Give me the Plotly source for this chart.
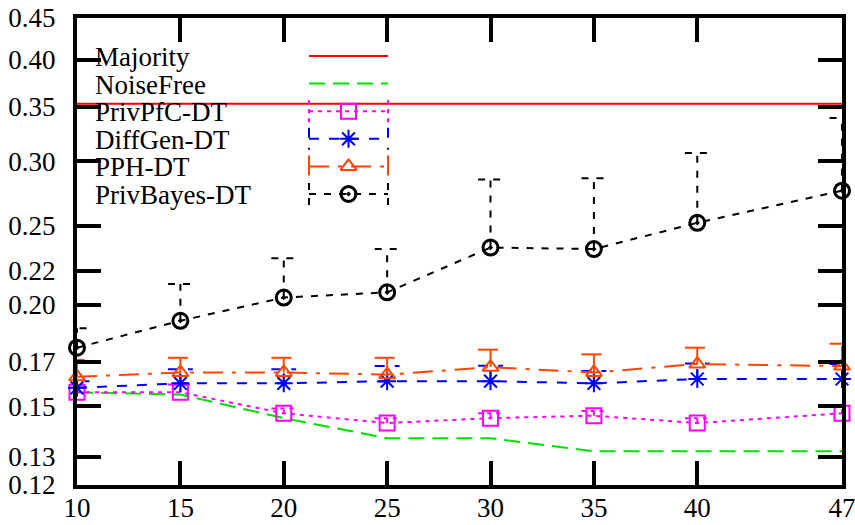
import plotly.graph_objects as go

# ---------------- data ----------------
x_vals = [10, 15, 20, 25, 30, 35, 40, 47]
majority = [0.353, 0.353, 0.353, 0.353, 0.353, 0.353, 0.353, 0.353]
noisefree = [0.156, 0.155, 0.145, 0.137, 0.137, 0.132, 0.132, 0.132]
privpfc = [0.156, 0.156, 0.147, 0.143, 0.145, 0.146, 0.143, 0.147]
privpfc_err = [0.002, 0.0035, 0.002, 0.002, 0.002, 0.002, 0.002, 0.0035]
diffgen = [0.158, 0.160, 0.160, 0.161, 0.161, 0.160, 0.162, 0.162]
diffgen_err = [0.003, 0.0065, 0.0065, 0.007, 0.0072, 0.0057, 0.0072, 0.007]
pph = [0.163, 0.165, 0.165, 0.164, 0.1675, 0.165, 0.169, 0.168]
pph_err = [0.008, 0.007, 0.007, 0.008, 0.0085, 0.0087, 0.008, 0.011]
privbayes = [0.177, 0.191, 0.204, 0.207, 0.235, 0.234, 0.252, 0.276]
privbayes_err = [0.010, 0.021, 0.024, 0.027, 0.050, 0.052, 0.055, 0.063]

y_ticks = [0.12, 0.13, 0.15, 0.17, 0.20, 0.22, 0.25, 0.30, 0.35, 0.40, 0.45]
y_tick_labels = ["0.12", "0.13", "0.15", "0.17", "0.20", "0.22", "0.25", "0.30", "0.35", "0.40", "0.45"]
x_ticks = [10, 15, 20, 25, 30, 35, 40, 47]

# ---------------- styles ----------------
FONT = "Liberation Serif, Times New Roman, DejaVu Serif, serif"
FS = 27
LW = 2
CAP_HALF = 0.6  # half-width of error bar caps, in x units

series = [
    # name, values, errors, color, dash, marker symbol, marker size
    ("Majority", majority, None, "#ff0000", "solid", None, 0),
    ("NoiseFree", noisefree, None, "#00e000", "16px,8px", None, 0),
    ("PrivPfC-DT", privpfc, privpfc_err, "#ff00ff", "4px,5px", "square-open", 15),
    ("DiffGen-DT", diffgen, diffgen_err, "#0000ff", "10px,10px", "asterisk-open", 15),
    ("PPH-DT", pph, pph_err, "#ff4500", "20px,9px,4px,9px", "triangle-up-open", 14),
    ("PrivBayes-DT", privbayes, privbayes_err, "#000000", "7px,8px", "circle-open-dot", 15),
]

fig = go.Figure()

for name, vals, errs, color, dash, sym, msize in series:
    if errs is not None:
        ex, ey = [], []
        for xv, yv, e in zip(x_vals, vals, errs):
            ex += [xv, xv, None, xv - CAP_HALF, xv + CAP_HALF, None]
            ey += [yv, yv + e, None, yv + e, yv + e, None]
        fig.add_trace(go.Scatter(x=ex, y=ey, mode="lines",
                                 line=dict(color=color, width=LW, dash=dash),
                                 showlegend=False, hoverinfo="skip"))
    fig.add_trace(go.Scatter(x=x_vals, y=vals, mode="lines",
                             line=dict(color=color, width=LW, dash=dash),
                             showlegend=False))
    if sym:
        fig.add_trace(go.Scatter(x=x_vals, y=vals, mode="markers",
                                 marker=dict(symbol=sym, size=msize, color=color,
                                             line=dict(color=color, width=3 if sym.startswith("circle") else 2)),
                                 cliponaxis=False, showlegend=False))

# ---------------- custom gnuplot-style key (pixel-like overlay axes) ----------------
key_rows = [56, 83.6, 111.2, 138.8, 166.4, 194]
key_x0, key_x1, key_xm, key_text_x = 309, 388, 348.5, 93
annotations = []
for (name, vals, errs, color, dash, sym, msize), ry in zip(series, key_rows):
    lx = [key_x0, key_x1]
    ly = [ry, ry]
    if errs is not None:
        lx += [None, key_x0, key_x0, None, key_x1, key_x1]
        ly += [None, ry - 11, ry + 11, None, ry - 11, ry + 11]
    fig.add_trace(go.Scatter(x=lx, y=ly, xaxis="x2", yaxis="y2", mode="lines",
                             line=dict(color=color, width=LW, dash=dash),
                             showlegend=False, hoverinfo="skip"))
    if sym:
        fig.add_trace(go.Scatter(x=[key_xm], y=[ry], xaxis="x2", yaxis="y2", mode="markers",
                                 marker=dict(symbol=sym, size=msize, color=color,
                                             line=dict(color=color, width=3 if sym.startswith("circle") else 2)),
                                 showlegend=False, hoverinfo="skip"))
    annotations.append(dict(x=key_text_x, y=ry + 1, xref="x2", yref="y2", text=name,
                            showarrow=False, xanchor="left", yanchor="middle",
                            font=dict(family=FONT, size=FS, color="black")))

axis_common = dict(showline=True, linecolor="black", linewidth=4, mirror="allticks",
                   ticks="inside", ticklen=24, tickwidth=4, tickcolor="black",
                   showgrid=False, zeroline=False, automargin=False,
                   ticklabeloverflow="allow",
                   tickfont=dict(family=FONT, size=FS, color="black"))

fig.update_layout(
    width=855, height=525,
    margin=dict(l=77, r=13, t=18, b=40),
    paper_bgcolor="white", plot_bgcolor="white",
    font=dict(family=FONT, size=FS, color="black"),
    showlegend=False,
    annotations=annotations,
    xaxis=dict(range=[10, 47], tickvals=x_ticks, ticktext=[str(t) for t in x_ticks],
               ticklabelstandoff=-4, **axis_common),
    yaxis=dict(type="log", range=[-0.920819, -0.346787], tickvals=y_ticks,
               ticktext=y_tick_labels, ticklabelstandoff=12, **axis_common),
    xaxis2=dict(overlaying="x", range=[77, 842], visible=False, anchor="y2"),
    yaxis2=dict(overlaying="y", range=[485, 18], visible=False, anchor="x2"),
)

fig.write_html("out.html")
